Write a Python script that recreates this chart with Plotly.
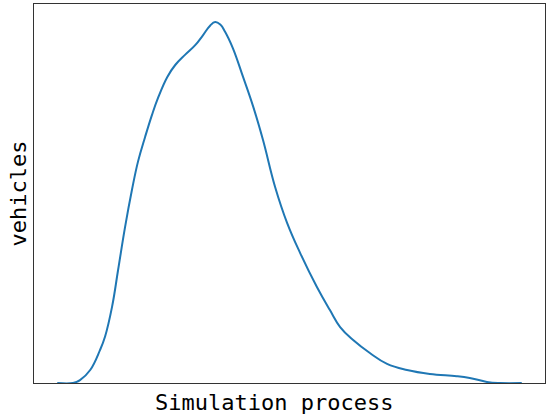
import plotly.graph_objects as go

# curve (x: simulation progress 0-100, y: relative density, peak = 100)
progress = [0, 3.4, 4.9, 7.1, 9.2, 10.3, 11.8, 13.1, 14.6, 16.1, 17.4, 18.9, 20.4,
            21.7, 23.7, 25.4, 27.5, 29.7, 31.4, 32.9, 34.0, 35.1, 36.1, 37.8, 40.0,
            42.2, 44.3, 46.9, 49.5, 52.3, 55.9, 58.7, 60.9, 63.7, 67.3, 71.0, 75.3,
            80.2, 86.0, 88.8, 92.5, 95.3, 100]
vehicles = [0, 0, 0.8, 3.6, 9.1, 12.9, 21.1, 31.3, 43.2, 53.6, 61.4, 68.1, 74.3,
            79.0, 84.8, 88.1, 90.9, 93.6, 96.4, 99.0, 100, 99.3, 97.4, 92.8, 84.8,
            76.5, 67.3, 54.3, 44.3, 36.0, 26.6, 20.2, 15.5, 11.9, 8.3, 5.3, 3.6,
            2.5, 1.9, 1.4, 0.3, 0, 0]

x_label = "Simulation process"
y_label = "vehicles"

fig = go.Figure(
    go.Scatter(
        x=progress,
        y=vehicles,
        mode="lines",
        line=dict(color="#1f77b4", width=2, shape="spline", smoothing=1.2),
        showlegend=False,
        hoverinfo="skip",
    )
)

axis_style = dict(
    showgrid=False,
    zeroline=False,
    showticklabels=False,
    ticks="",
    showline=True,
    mirror=True,
    linecolor="#333333",
    linewidth=1,
)

fig.update_layout(
    width=550,
    height=419,
    margin=dict(l=34, r=5, t=4, b=36),
    paper_bgcolor="white",
    plot_bgcolor="white",
    xaxis=dict(range=[-5, 105], **axis_style),
    yaxis=dict(range=[0, 105], **axis_style),
    annotations=[
        dict(
            text=x_label,
            xref="paper", yref="paper",
            x=(274 - 34) / 511, y=-0.013,
            xanchor="center", yanchor="top",
            showarrow=False,
            font=dict(family="DejaVu Sans Mono", size=22, color="black"),
        ),
        dict(
            text=y_label,
            xref="paper", yref="paper",
            x=(18 - 34) / 511, y=0.5,
            xanchor="center", yanchor="middle",
            textangle=-90,
            showarrow=False,
            font=dict(family="DejaVu Sans Mono", size=22, color="black"),
        ),
    ],
)

# the page's default body margin would shift the figure; remove it
fig.write_html(
    "out.html",
    config={"displayModeBar": False},
    post_script="document.body.style.margin='0';",
)
